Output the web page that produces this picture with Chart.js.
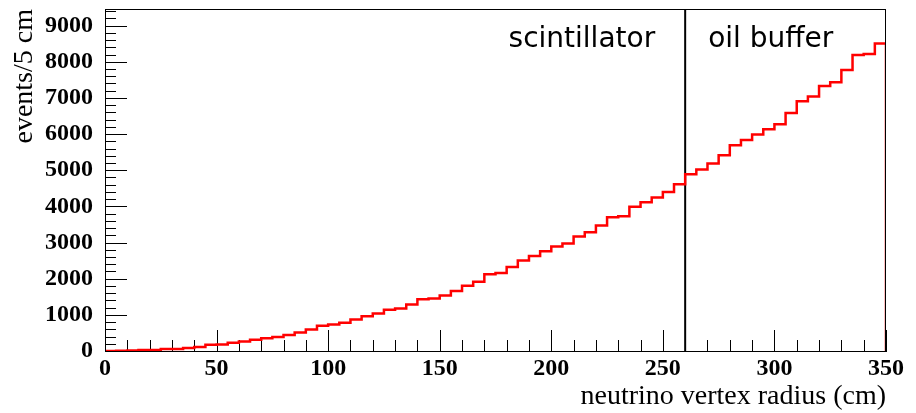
<!DOCTYPE html>
<html>
<head>
<meta charset="utf-8">
<script src="https://cdn.jsdelivr.net/npm/chart.js@4/dist/chart.umd.min.js"></script>
<style>
    html, body { margin: 0; padding: 0; background: #fff; }
</style>
</head>
<body>
<canvas id="vertexHisto" width="916" height="413"></canvas>
<script>
// histogram: events per 5 cm bin of neutrino vertex radius
var binWidth = 5;
var binLowEdges = [
    0, 5, 10, 15, 20, 25, 30, 35, 40, 45,
    50, 55, 60, 65, 70, 75, 80, 85, 90, 95,
    100, 105, 110, 115, 120, 125, 130, 135, 140, 145,
    150, 155, 160, 165, 170, 175, 180, 185, 190, 195,
    200, 205, 210, 215, 220, 225, 230, 235, 240, 245,
    250, 255, 260, 265, 270, 275, 280, 285, 290, 295,
    300, 305, 310, 315, 320, 325, 330, 335, 340, 345
];
var eventsPerBin = [
    3, 8, 15, 28, 30, 55, 58, 83, 111, 170,
    180, 230, 265, 312, 350, 385, 440, 512, 592, 700,
    735, 778, 872, 961, 1040, 1140, 1174, 1285, 1428, 1455,
    1538, 1658, 1805, 1915, 2120, 2160, 2326, 2503, 2631, 2761,
    2891, 2974, 3168, 3287, 3473, 3703, 3730, 3988, 4118, 4248,
    4400, 4610, 4890, 5020, 5189, 5415, 5692, 5835, 5992, 6135,
    6269, 6580, 6905, 7040, 7330, 7432, 7774, 8189, 8216, 8505
];
var xTicks = [0, 50, 100, 150, 200, 250, 300, 350];
var yTicks = [0, 1000, 2000, 3000, 4000, 5000, 6000, 7000, 8000, 9000];
var xMinorStep = 10;
var yMinorStep = 200;
var xRange = [0, 350];
var yRange = [0, 9460];
var boundaryRadius = 260;
var regionNames = ["scintillator", "oil buffer"];

function buildStepPoints()
{
    // each point opens a bin; stepped 'before' keeps the bin value flat up to the next edge
    var pts = [];
    for (var i = 0; i < binLowEdges.length; i++) {
        pts.push({ x: binLowEdges[i], y: eventsPerBin[i] });
    }
    var last = binLowEdges.length - 1;
    pts.push({ x: binLowEdges[last] + binWidth, y: eventsPerBin[last] });
    pts.push({ x: binLowEdges[last] + binWidth, y: 0 });
    return pts;
}

// ROOT style frame, inward ticks and region labels
var rootDecor = {
    id: 'rootDecor',
    beforeDatasetsDraw: function (chart) {
        var ctx = chart.ctx;
        var area = chart.chartArea;
        var xs = chart.scales.x;
        var ys = chart.scales.y;
        ctx.save();
        ctx.strokeStyle = '#000';
        ctx.lineWidth = 1;
        ctx.beginPath();
        for (var v = xs.min; v <= xs.max + 0.001; v += xMinorStep) {
            var px = Math.round(xs.getPixelForValue(v)) + 0.5;
            var len = (v % 50 === 0) ? 21 : 11;
            ctx.moveTo(px, area.bottom);
            ctx.lineTo(px, area.bottom - len);
        }
        for (var w = ys.min; w <= ys.max + 0.001; w += yMinorStep) {
            var py = Math.round(ys.getPixelForValue(w)) + 0.5;
            var ylen = (w % 1000 === 0) ? 22 : 11;
            ctx.moveTo(area.left, py);
            ctx.lineTo(area.left + ylen, py);
        }
        ctx.stroke();
        ctx.restore();
    },
    afterDatasetsDraw: function (chart) {
        var ctx = chart.ctx;
        var area = chart.chartArea;
        var xs = chart.scales.x;
        var ys = chart.scales.y;
        ctx.save();
        ctx.strokeStyle = '#000';
        ctx.lineWidth = 1;
        ctx.strokeRect(Math.round(area.left) + 0.5, Math.round(area.top) + 0.5,
            Math.round(area.right - area.left) - 1, Math.round(area.bottom - area.top));

        var bx = xs.getPixelForValue(boundaryRadius);
        var by = ys.getPixelForValue(8420);
        ctx.fillStyle = '#000';
        ctx.font = '28px "DejaVu Sans"';
        ctx.textBaseline = 'alphabetic';
        ctx.textAlign = 'right';
        ctx.fillText(regionNames[0], bx - 30, by);
        ctx.textAlign = 'left';
        ctx.fillText(regionNames[1], bx + 23, by);
        ctx.restore();
    }
};

var histoChart = new Chart(document.getElementById('vertexHisto'), {
    type: 'line',
    data: {
        datasets: [{
            data: buildStepPoints(),
            stepped: 'before',
            borderColor: '#ff0000',
            borderWidth: 2.5,
            pointRadius: 0,
            fill: false
        }, {
            data: [{ x: boundaryRadius, y: yRange[0] }, { x: boundaryRadius, y: yRange[1] }],
            borderColor: '#000000',
            borderWidth: 2,
            pointRadius: 0,
            fill: false
        }]
    },
    options: {
        responsive: false,
        animation: false,
        devicePixelRatio: 1,
        layout: { padding: { top: 9, right: 30, left: 0, bottom: 0 } },
        plugins: {
            legend: { display: false },
            tooltip: { enabled: false }
        },
        scales: {
            x: {
                type: 'linear',
                min: xRange[0],
                max: xRange[1],
                grid: { display: false, drawTicks: false },
                border: { display: true, color: '#000', width: 1 },
                afterBuildTicks: function (scale) {
                    scale.ticks = xTicks.map(function (t) { return { value: t }; });
                },
                ticks: {
                    color: '#000',
                    padding: 3,
                    maxRotation: 0,
                    autoSkip: false,
                    callback: function (value) { return String(value); },
                    font: { family: '"Liberation Serif"', weight: 'bold', size: 24 }
                },
                title: {
                    display: true,
                    text: 'neutrino vertex radius (cm)',
                    align: 'end',
                    color: '#000',
                    padding: { top: 0, bottom: 0 },
                    font: { family: '"Liberation Serif"', size: 28 }
                },
                afterFit: function (scale) {
                    scale.height = 62;
                    scale.paddingLeft = 0;
                    scale.paddingRight = 0;
                }
            },
            y: {
                min: yRange[0],
                max: yRange[1],
                grid: { display: false, drawTicks: false },
                border: { display: true, color: '#000', width: 1 },
                afterBuildTicks: function (scale) {
                    scale.ticks = yTicks.map(function (t) { return { value: t }; });
                },
                ticks: {
                    color: '#000',
                    padding: 12,
                    callback: function (value) { return String(value); },
                    font: { family: '"Liberation Serif"', weight: 'bold', size: 24 }
                },
                title: {
                    display: true,
                    text: 'events/5 cm',
                    align: 'end',
                    color: '#000',
                    padding: { top: 8, bottom: 0 },
                    font: { family: '"Liberation Serif"', size: 28 }
                },
                afterFit: function (scale) {
                    scale.width = 105;
                    scale.paddingTop = 0;
                    scale.paddingBottom = 0;
                }
            }
        }
    },
    plugins: [rootDecor]
});
</script>
</body>
</html>
